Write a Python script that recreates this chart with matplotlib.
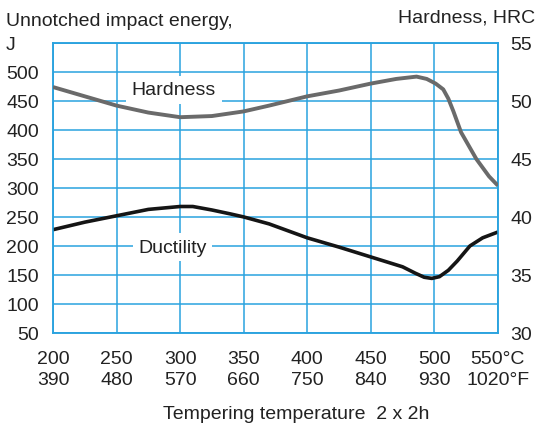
import matplotlib
matplotlib.use("Agg")
import matplotlib.pyplot as plt

plt.rcParams['font.family'] = ['Liberation Sans', 'DejaVu Sans']

# tempering temperature, deg C / deg F
temp_c = [200, 250, 300, 350, 400, 450, 500, 550]
temp_f = [390, 480, 570, 660, 750, 840, 930, 1020]

# hardness curve (HRC, right axis)
hard_t = [200, 225, 250, 275, 300, 325, 350, 370, 400, 425, 450, 470, 486,
          494, 501, 507, 511, 515, 521, 533, 543, 550]
hard_v = [51.2, 50.4, 49.6, 49.0, 48.6, 48.7, 49.1, 49.6, 50.4, 50.9, 51.5,
          51.9, 52.1, 51.9, 51.5, 51.0, 50.2, 49.1, 47.3, 45.0, 43.5, 42.7]

# ductility curve (unnotched impact energy J, left axis)
duct_t = [200, 225, 250, 275, 300, 310, 325, 340, 350, 370, 400, 425, 450,
          475, 485, 492, 498, 504, 511, 518, 528, 538, 550]
duct_v = [228, 241, 252, 263, 268, 268, 262, 255, 250, 238, 214, 198, 181,
          164, 153, 146, 144, 147, 158, 174, 200, 214, 224]

left_ticks = [50, 100, 150, 200, 250, 300, 350, 400, 450, 500, 550]
right_ticks = [30, 35, 40, 45, 50, 55]

grid_col = '#2aa3df'
txt_col = '#222222'
fs = 14

fig = plt.figure(figsize=(5.38, 4.27), dpi=100)
ax = fig.add_axes([0.0985, 0.218, 0.827, 0.679])
ax2 = ax.twinx()

ax.set_xlim(200, 550)
ax.set_ylim(50, 550)
ax2.set_ylim(30, 55)

ax.set_xticks(temp_c)
ax.set_xticklabels([f"{c}\n{f}" for c, f in zip(temp_c, temp_f)][:-1]
                   + [f"{temp_c[-1]}°C\n{temp_f[-1]}°F"], linespacing=1.35)
ax.set_yticks(left_ticks)
ax.set_yticklabels([str(v) for v in left_ticks[:-1]] + [''])
ax2.set_yticks(right_ticks)

ax.tick_params(axis='both', length=0, labelsize=fs, colors=txt_col)
ax.tick_params(axis='y', pad=10)
ax.tick_params(axis='x', pad=12)
ax2.tick_params(axis='y', length=0, labelsize=fs, colors=txt_col, pad=9)

ax.grid(True, color=grid_col, lw=1.1)
for a in (ax, ax2):
    for s in a.spines.values():
        s.set_color(grid_col)
        s.set_linewidth(1.1)

ax.plot(duct_t, duct_v, color='#151515', lw=2.6, zorder=5,
        solid_joinstyle='round', solid_capstyle='butt')
ax2.plot(hard_t, hard_v, color='#6a6a6a', lw=2.8, zorder=5,
         solid_joinstyle='round', solid_capstyle='butt')

ax.text(295, 469, 'Hardness', ha='center', va='center', fontsize=fs,
        color=txt_col, zorder=3,
        bbox=dict(facecolor='white', edgecolor='none', pad=4))
ax.text(294, 198, 'Ductility', ha='center', va='center', fontsize=fs,
        color=txt_col, zorder=3,
        bbox=dict(facecolor='white', edgecolor='none', pad=4))

fig.text(6 / 538, 1 - 22 / 427, 'Unnotched impact energy,', ha='left',
         va='center', fontsize=fs, color=txt_col)
fig.text(6 / 538, 1 - 46 / 427, 'J', ha='left', va='center', fontsize=fs,
         color=txt_col)
fig.text(535 / 538, 1 - 18 / 427, 'Hardness, HRC', ha='right', va='center',
         fontsize=fs, color=txt_col)
fig.text(296 / 538, 1 - 415 / 427, 'Tempering temperature  2 x 2h',
         ha='center', va='center', fontsize=fs, color=txt_col)

fig.savefig('out.png', dpi=100)
